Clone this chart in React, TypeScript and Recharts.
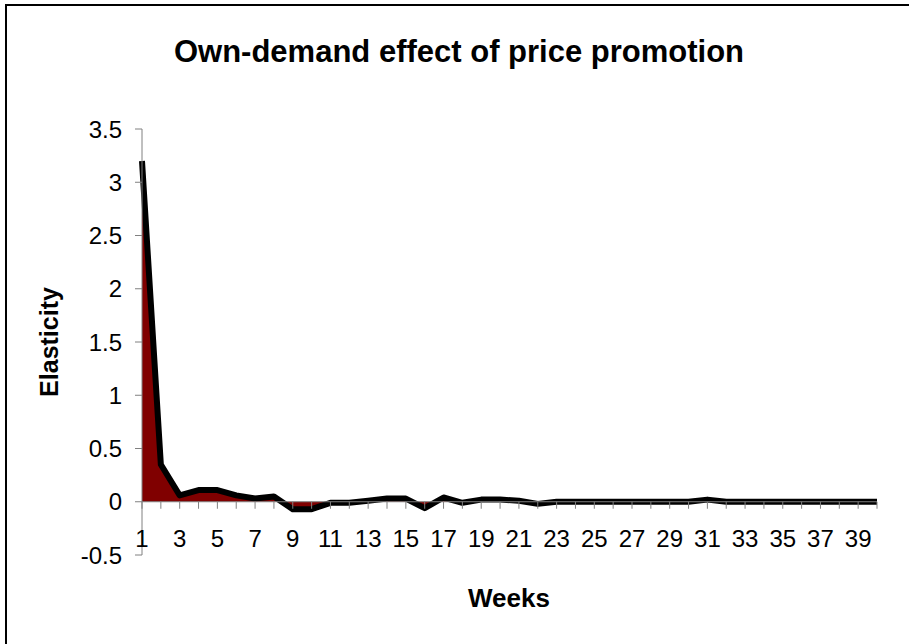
import React from "react";
import { AreaChart, Area, XAxis, YAxis, ReferenceLine } from "recharts";

const weeks: string[] = Array.from({ length: 40 }, (_, i) => String(i + 1));
const elasticity: number[] = [
  3.2, 0.35, 0.06, 0.11, 0.11, 0.06, 0.03, 0.05, -0.07, -0.07,
  -0.01, -0.01, 0.01, 0.03, 0.03, -0.06, 0.04, -0.01, 0.02, 0.02,
  0.01, -0.02, 0, 0, 0, 0, 0, 0, 0, 0,
  0.02, 0, 0, 0, 0, 0, 0, 0, 0, 0,
];
const yTicks: number[] = [-0.5, 0, 0.5, 1, 1.5, 2, 2.5, 3, 3.5];
const title = "Own-demand effect of price promotion";
const xTitle = "Weeks";
const yTitle = "Elasticity";

const data = weeks.map((w, i) => ({ week: w, value: elasticity[i] }));

const W = 909;
const H = 644;
const M_TOP = 129;
const M_RIGHT = 32;
const Y_AXIS_W = 142;
const X_AXIS_H = 89;
const PLOT_H = H - M_TOP - X_AXIS_H;
const Y_MIN = -0.5;
const Y_MAX = 3.5;
const FONT = "'Liberation Sans', Arial, sans-serif";

const XTick = (props: any) => {
  const { x, y, payload, index } = props;
  const zeroY = y - (PLOT_H * (0 - Y_MIN)) / (Y_MAX - Y_MIN);
  return (
    <g>
      <line x1={x} x2={x} y1={zeroY} y2={zeroY + 7} stroke="#808080" strokeWidth={1} />
      {index % 2 === 0 && (
        <text x={x} y={zeroY + 45} textAnchor="middle" fontSize={24} fontFamily={FONT} fill="#000">
          {payload.value}
        </text>
      )}
    </g>
  );
};

export default function App() {
  return (
    <div style={{ position: "absolute", left: 0, top: 0, width: W, height: H, overflow: "hidden", background: "#fff" }}>
      <div
        style={{
          position: "absolute",
          left: 5,
          top: 4,
          width: 960,
          height: 700,
          border: "2px solid #000",
          boxSizing: "border-box",
        }}
      />
      <div style={{ position: "absolute", left: 0, top: 0 }}>
        <AreaChart
          width={W}
          height={H}
          data={data}
          margin={{ top: M_TOP, right: M_RIGHT, left: 0, bottom: 0 }}
        >
          <text x={459} y={62} textAnchor="middle" fontSize={31} fontWeight="bold" fontFamily={FONT} fill="#000">
            {title}
          </text>
          <text x={509} y={607} textAnchor="middle" fontSize={26} fontWeight="bold" fontFamily={FONT} fill="#000">
            {xTitle}
          </text>
          <text
            x={49}
            y={342}
            transform="rotate(-90 49 342)"
            textAnchor="middle"
            dominantBaseline="central"
            fontSize={25}
            fontWeight="bold"
            fontFamily={FONT}
            fill="#000"
          >
            {yTitle}
          </text>
          <XAxis
            dataKey="week"
            height={X_AXIS_H}
            axisLine={false}
            tickLine={false}
            tickSize={0}
            tickMargin={0}
            interval={0}
            tick={<XTick />}
          />
          <YAxis
            width={Y_AXIS_W}
            domain={[Y_MIN, Y_MAX]}
            ticks={yTicks}
            type="number"
            allowDataOverflow
            axisLine={{ stroke: "#808080" }}
            tickLine={{ stroke: "#808080" }}
            tickSize={7}
            tickMargin={13}
            tick={{ fontSize: 24, fill: "#000", fontFamily: FONT }}
          />
          <ReferenceLine y={0} stroke="#808080" strokeWidth={1} />
          <Area
            type="linear"
            dataKey="value"
            stroke="#000"
            strokeWidth={6}
            strokeLinejoin="round"
            fill="#800000"
            fillOpacity={1}
            isAnimationActive={false}
            dot={false}
            activeDot={false}
          />
        </AreaChart>
      </div>
    </div>
  );
}
